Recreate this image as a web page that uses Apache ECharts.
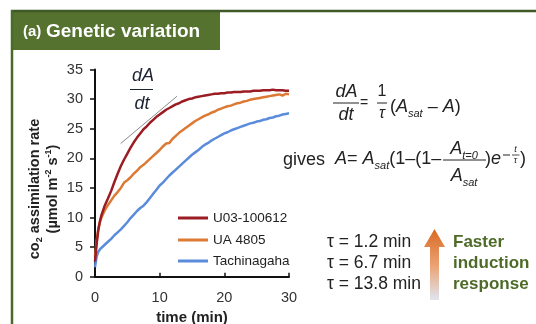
<!DOCTYPE html>
<html><head><meta charset="utf-8">
<script src="https://cdn.jsdelivr.net/npm/echarts@6/dist/echarts.min.js"></script>
<style>html,body{margin:0;padding:0;background:#fff}#c{width:536px;height:324px}</style>
</head><body><div id="c"></div>
<script>
const time = [0,0.25,0.5,0.75,1,1.5,2,2.5,3,3.5,4,4.5,5,5.5,6,6.5,7,7.5,8,8.5,9,9.5,10,10.5,11,11.5,12,12.5,13,13.5,14,14.5,15,15.5,16,16.5,17,17.5,18,18.5,19,19.5,20,20.5,21,21.5,22,22.5,23,23.5,24,24.5,25,25.5,26,26.5,27,27.5,28,28.5,29,29.5,30];
const seriesNames = ['U03-100612','UA 4805','Tachinagaha'];
const u03 = [2.6,5.5,7.8,9.3,10.4,12.0,13.2,14.5,16.0,17.4,18.7,19.8,20.8,21.8,22.7,23.5,24.2,24.9,25.4,26.0,26.5,27.0,27.4,27.8,28.2,28.5,28.8,29.1,29.3,29.6,29.8,30.0,30.1,30.3,30.4,30.5,30.6,30.7,30.8,30.9,30.9,31.0,31.0,31.1,31.1,31.2,31.2,31.2,31.3,31.3,31.3,31.4,31.4,31.4,31.5,31.5,31.5,31.6,31.5,31.5,31.5,31.4,31.4];
const ua4805 = [3.4,6.0,8.0,9.2,10.0,11.2,12.1,12.9,13.7,14.3,15.0,15.9,16.3,16.8,17.4,17.9,18.5,18.9,19.4,19.9,20.4,20.9,21.4,22.0,22.5,22.6,23.3,23.8,24.3,24.7,25.1,25.5,25.9,26.3,26.6,26.9,27.2,27.4,27.7,27.9,28.2,28.4,28.6,28.8,28.9,29.1,29.3,29.4,29.6,29.7,29.9,30.0,30.1,30.2,30.3,30.4,30.5,30.6,30.7,30.8,30.6,30.9,30.8];
const tachinagaha = [1.6,3.4,4.2,4.6,4.9,5.4,5.9,6.4,7.0,7.5,8.0,8.6,9.2,9.9,10.5,11.1,11.6,12.0,12.6,13.3,14.0,14.7,15.4,15.9,16.5,17.1,17.6,18.1,18.6,19.1,19.6,20.1,20.6,21.0,21.4,21.9,22.3,22.6,23.0,23.3,23.6,23.9,24.2,24.4,24.7,24.9,25.1,25.3,25.5,25.7,25.9,26.0,26.2,26.3,26.5,26.6,26.8,26.9,27.1,27.2,27.4,27.5,27.6];
const tangentLine = [[3.97,22.5],[12.7,30.5]];
const tauLabels = ['τ = 1.2 min','τ = 6.7 min','τ = 13.8 min'];
const noteLines = ['Faster','induction','response'];

const colors = ['#9b1c22','#dc7a34','#5b8bdb'];
const FF = '"Liberation Sans", Arial, sans-serif';
const chart = echarts.init(document.getElementById('c'));

function T(x, y, text, st, extra) {
  return Object.assign({type:'text', x:x, y:y, z:10,
    style: Object.assign({text:text, fill:'#222', fontFamily:FF, fontSize:18, align:'center', verticalAlign:'middle'}, st)}, extra||{});
}
function L(x1,y1,x2,y2,w,c){ return {type:'line', z:10, shape:{x1:x1,y1:y1,x2:x2,y2:y2}, style:{stroke:c||'#222', lineWidth:w||1}}; }

const eqRich = {
  i:{fontStyle:'italic', fontSize:18, fontFamily:FF, fill:'#222'},
  n:{fontSize:18, fontFamily:FF, fill:'#222'},
  sub:{fontStyle:'italic', fontSize:11, fontFamily:FF, fill:'#222', verticalAlign:'bottom', padding:[0,0,-3,0]}
};

const graphics = [
  {type:'rect', shape:{x:11,y:10,width:209,height:40}, style:{fill:'#55722f'}},
  L(11,11,536,11,2.5,'#3f5a26'),
  L(12,10,12,324,2.5,'#4a6a2a'),
  T(23,32,'(a)',{fill:'#fff',fontSize:15,fontWeight:'bold',align:'left'}),
  T(46,31.5,'Genetic variation',{fill:'#fff',fontSize:19,fontWeight:'bold',align:'left'}),
  T(44,189,'{b|co}{s|2}{b| assimilation rate}\n{b|(µmol m}{p|-2}{b| s}{p|-1}{b|)}',{
    fontSize:14.5, fontWeight:'bold',
    rich:{
      b:{fontSize:14.5, fontWeight:'bold', fontFamily:FF, fill:'#222', lineHeight:18},
      s:{fontSize:9, fontWeight:'bold', fontFamily:FF, fill:'#222', verticalAlign:'bottom', lineHeight:12},
      p:{fontSize:9, fontWeight:'bold', fontFamily:FF, fill:'#222', verticalAlign:'top', lineHeight:10}
    }}, {rotation:Math.PI/2}),
  T(143,76,'dA',{fontStyle:'italic',fill:'#1b2230'}),
  L(130,89.5,153,89.5,1,'#1b2230'),
  T(142,103.5,'dt',{fontStyle:'italic',fill:'#1b2230'}),
  T(346.5,92,'dA',{fontStyle:'italic'}),
  L(333,103,359,103,1),
  T(346,115,'dt',{fontStyle:'italic'}),
  T(364,103,'=',{fontSize:14}),
  T(382,92,'1',{fontSize:16}),
  L(377,103,387,103,1),
  T(382,114,'τ',{fontSize:16,fontStyle:'italic'}),
  T(390,107,'{n|(}{i|A}{sub|sat}{n| – }{i|A}{n|)}',{align:'left',rich:eqRich}),
  T(283,160,'gives',{align:'left'}),
  T(335,159,'{i|A}{n|= }{i|A}{sub|sat}{n|(1–(1–}',{align:'left',rich:eqRich}),
  T(464,149,'{i|A}{sub|t=0}',{rich:eqRich}),
  L(443,160,486,160,1),
  T(464,176,'{i|A}{sub|sat}',{rich:eqRich}),
  T(485,159,'{n|)}{i|e}',{align:'left',rich:eqRich}),
  L(503,155,510,155,1),
  T(515.5,149.5,'t',{fontSize:9,fontStyle:'italic'}),
  L(512,155,519.5,155,0.8),
  T(515.5,160,'τ',{fontSize:9,fontStyle:'italic'}),
  T(520,159,')',{align:'left'}),
  T(327,242,tauLabels[0],{align:'left',fontSize:17.5}),
  T(327,263.5,tauLabels[1],{align:'left',fontSize:17.5}),
  T(327,284.5,tauLabels[2],{align:'left',fontSize:17.5}),
  {type:'polygon', z:9, shape:{points:[[434.5,229],[445,247],[439,247],[439,300],[430,300],[430,247],[424,247]]},
    style:{fill:new echarts.graphic.LinearGradient(0,0,0,1,[{offset:0,color:'#d86a24'},{offset:0.5,color:'#eca070'},{offset:1,color:'#dfe5f0'}])}},
  T(453,242,noteLines[0],{align:'left',fontSize:17,fontWeight:'bold',fill:'#4e6a28'}),
  T(453,263.5,noteLines[1],{align:'left',fontSize:17,fontWeight:'bold',fill:'#4e6a28'}),
  T(453,284.5,noteLines[2],{align:'left',fontSize:17,fontWeight:'bold',fill:'#4e6a28'})
];

function legend(name, top){
  return {data:[name], left:178, top:top, padding:0, itemWidth:30, itemHeight:3, icon:'rect', itemGap:0,
    textStyle:{fontSize:13.5, color:'#222', fontFamily:FF}, selectedMode:false};
}

chart.setOption({
  animation:false,
  grid:{left:95, right:247, top:69.5, bottom:47.3, containLabel:false, outerBoundsMode:'none'},
  xAxis:{type:'value', min:0, max:30, interval:10,
    axisLine:{show:true, lineStyle:{color:'#111', width:2}},
    axisTick:{show:true, inside:true, length:4, lineStyle:{color:'#111', width:1.5}},
    axisLabel:{fontSize:14.5, color:'#333', margin:14, fontFamily:FF},
    splitLine:{show:false},
    name:'time (min)', nameLocation:'middle', nameGap:31,
    nameTextStyle:{fontSize:15, fontWeight:'bold', color:'#222', fontFamily:FF}},
  yAxis:{type:'value', min:0, max:35, interval:5,
    axisLine:{show:true, lineStyle:{color:'#111', width:2}},
    axisTick:{show:true, inside:false, length:5, lineStyle:{color:'#111', width:1.5}},
    axisLabel:{fontSize:14.5, color:'#333', margin:12, fontFamily:FF},
    splitLine:{show:false}},
  legend:[legend(seriesNames[0],211), legend(seriesNames[1],233), legend(seriesNames[2],254)],
  series:[
    {name:'tangent', type:'line', data:tangentLine, symbol:'none', lineStyle:{color:'#8a8a8a', width:1}, z:1},
    {name:seriesNames[0], type:'line', data:time.map((t,i)=>[t,u03[i]]), symbol:'none', lineStyle:{color:colors[0], width:2.5}, itemStyle:{color:colors[0]}, z:4},
    {name:seriesNames[1], type:'line', data:time.map((t,i)=>[t,ua4805[i]]), symbol:'none', lineStyle:{color:colors[1], width:2.5}, itemStyle:{color:colors[1]}, z:3},
    {name:seriesNames[2], type:'line', data:time.map((t,i)=>[t,tachinagaha[i]]), symbol:'none', lineStyle:{color:colors[2], width:2.5}, itemStyle:{color:colors[2]}, z:2}
  ],
  graphic:graphics
});
</script></body></html>
